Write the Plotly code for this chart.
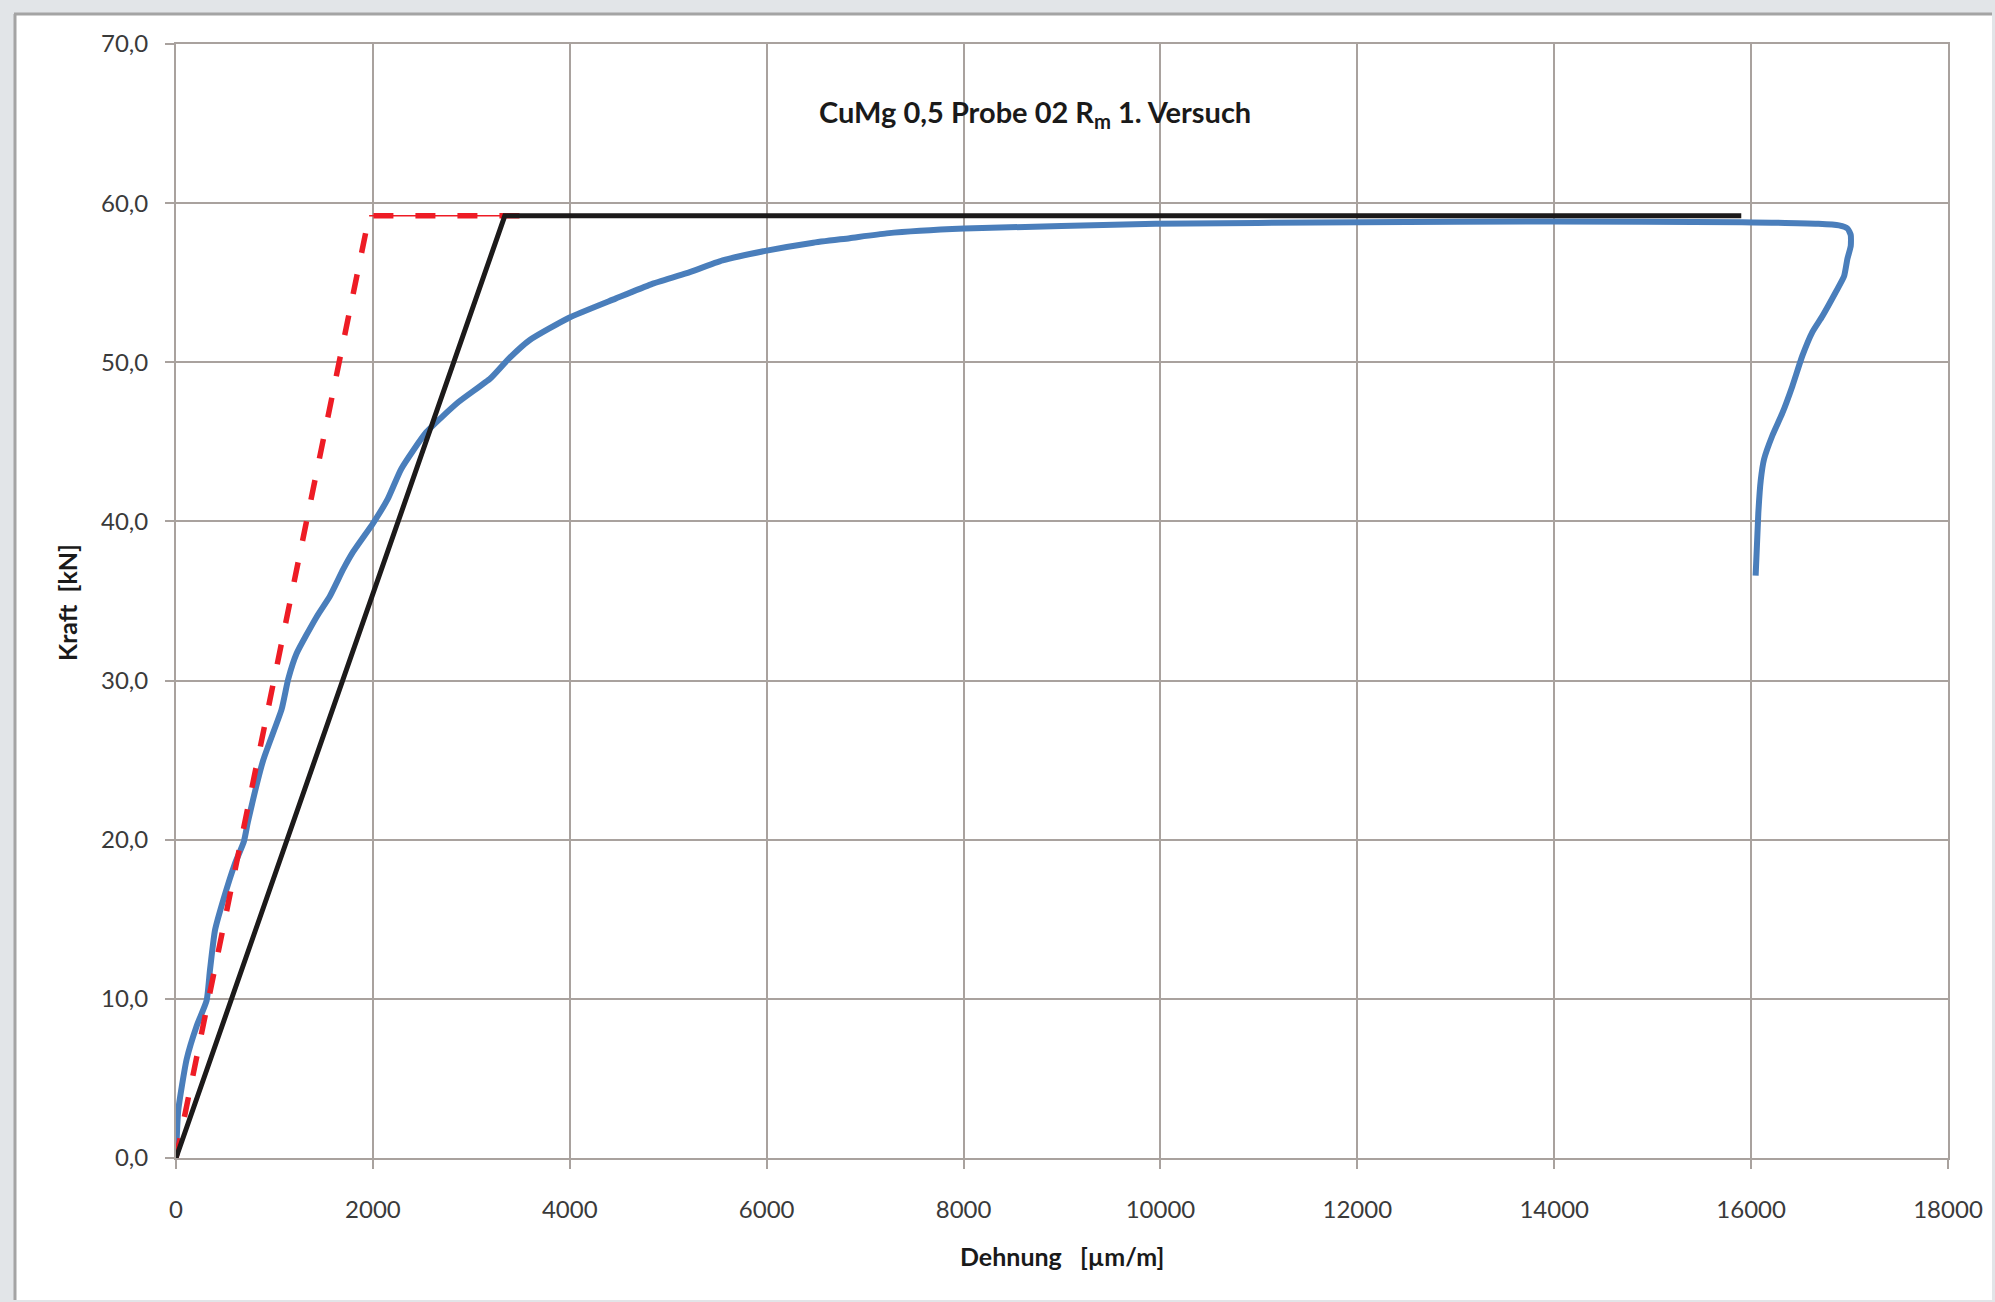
import plotly.graph_objects as go

# ---- data ----
strain_um_m = [0, 23, 108, 210, 311, 345, 396, 480, 599, 690, 730, 886, 1073, 1140, 1225,
               1428, 1563, 1699, 1800, 2003, 2150, 2288, 2542, 2869, 3195, 3376, 3594,
               3993, 4464, 4826, 5189, 5552, 5987, 6458, 6843, 7219, 8008, 9949, 12020,
               13964, 15907, 16684, 16893, 16980, 17012, 17012, 16978, 16944, 16859,
               16724, 16622, 16520, 16419, 16317, 16216, 16131, 16098, 16073, 16046]
force_kN = [0.0, 3.0, 6.2, 8.3, 9.9, 11.8, 14.3, 16.2, 18.5, 19.9, 21.1, 25.0, 28.2, 30.1, 31.7,
            34.0, 35.3, 37.0, 38.1, 39.9, 41.4, 43.3, 45.6, 47.5, 49.0, 50.2, 51.4,
            52.8, 54.0, 54.9, 55.6, 56.4, 57.0, 57.5, 57.8, 58.1, 58.4, 58.7, 58.8,
            58.85, 58.8, 58.7, 58.6, 58.4, 58.0, 57.3, 56.5, 55.4, 54.4,
            52.9, 51.9, 50.4, 48.5, 46.8, 45.4, 43.9, 42.6, 40.5, 36.6]

red_x = [0, 1962, 3700]
red_y = [0.0, 59.2, 59.2]
red_flat_x = [1962, 3700]
red_flat_y = [59.2, 59.2]

black_x = [0, 3340, 15900]
black_y = [0.0, 59.2, 59.2]

x_tickvals = [0, 2000, 4000, 6000, 8000, 10000, 12000, 14000, 16000, 18000]
x_ticktext = ["0", "2000", "4000", "6000", "8000", "10000", "12000", "14000", "16000", "18000"]
y_tickvals = [0, 10, 20, 30, 40, 50, 60, 70]
y_ticktext = ["0,0", "10,0", "20,0", "30,0", "40,0", "50,0", "60,0", "70,0"]

title_text = "<b>CuMg 0,5 Probe 02 R<sub>m</sub> 1. Versuch</b>"
x_title = "<b>Dehnung\u00a0\u00a0\u00a0[µm/m]</b>"
y_title = "<b>Kraft\u00a0\u00a0[kN]</b>"

# ---- figure ----
W, H = 1995, 1302
L, R, T, B = 176, 47, 44, 144
pw, ph = W - L - R, H - T - B

def px(xp):
    return (xp - L) / pw

def py(yp):
    return (H - B - yp) / ph

FONT = "Lato, 'Open Sans', sans-serif"
GRID = "#a9a29e"

fig = go.Figure()
fig.add_trace(go.Scatter(x=strain_um_m, y=force_kN, mode="lines",
                         line=dict(color="#4a7ebb", width=6, shape="spline", smoothing=0.5),
                         showlegend=False))
fig.add_trace(go.Scatter(x=red_flat_x, y=red_flat_y, mode="lines",
                         line=dict(color="#ee1c25", width=1.5), showlegend=False))
fig.add_trace(go.Scatter(x=red_x, y=red_y, mode="lines",
                         line=dict(color="#ee1c25", width=5.5, dash="20px,22px"), showlegend=False))
fig.add_trace(go.Scatter(x=black_x, y=black_y, mode="lines",
                         line=dict(color="#1c1a1a", width=5), showlegend=False))

fig.update_layout(
    width=W, height=H,
    margin=dict(l=L, r=R, t=T, b=B),
    paper_bgcolor="#e2e5e8",
    plot_bgcolor="white",
    font=dict(family=FONT, size=24, color="#3a3a3a"),
    xaxis=dict(range=[0, 18000], tickmode="array", tickvals=x_tickvals, ticktext=x_ticktext,
               showgrid=True, gridcolor=GRID, gridwidth=2, zeroline=False,
               showline=True, linecolor=GRID, linewidth=2, mirror=True,
               ticks="outside", ticklen=9, tickwidth=2, tickcolor=GRID,
               ticklabelstandoff=20, tickfont=dict(size=24, color="#3a3a3a")),
    yaxis=dict(range=[0, 70], tickmode="array", tickvals=y_tickvals, ticktext=y_ticktext,
               showgrid=True, gridcolor=GRID, gridwidth=2, zeroline=False,
               showline=True, linecolor=GRID, linewidth=2, mirror=True,
               ticks="outside", ticklen=9, tickwidth=2, tickcolor=GRID,
               ticklabelstandoff=12, tickfont=dict(size=24, color="#3a3a3a")),
    shapes=[
        dict(type="rect", xref="paper", yref="paper", layer="below",
             x0=px(14), x1=px(1992), y0=py(1300), y1=py(14),
             fillcolor="white", line=dict(width=0)),
        dict(type="line", xref="paper", yref="paper", layer="below",
             x0=px(15), x1=px(15), y0=py(1300), y1=py(14),
             line=dict(color="#a4a4a4", width=3)),
        dict(type="line", xref="paper", yref="paper", layer="below",
             x0=px(14), x1=px(1992), y0=py(14), y1=py(14),
             line=dict(color="#a4a4a4", width=3)),
    ],
    annotations=[
        dict(text=title_text, xref="paper", yref="paper", x=px(1035), y=py(113),
             xanchor="center", yanchor="middle", showarrow=False,
             font=dict(family=FONT, size=29, color="#1a1a1a")),
        dict(text=x_title, xref="paper", yref="paper", x=px(1062), y=py(1256),
             xanchor="center", yanchor="middle", showarrow=False,
             font=dict(family=FONT, size=25, color="#1a1a1a")),
        dict(text=y_title, xref="paper", yref="paper", x=px(67), y=py(603),
             xanchor="center", yanchor="middle", showarrow=False, textangle=-90,
             font=dict(family=FONT, size=25, color="#1a1a1a")),
    ],
)

fig.write_html("out.html", config={"displayModeBar": False},
               post_script="document.body.style.margin='0';document.body.style.overflow='hidden';")
